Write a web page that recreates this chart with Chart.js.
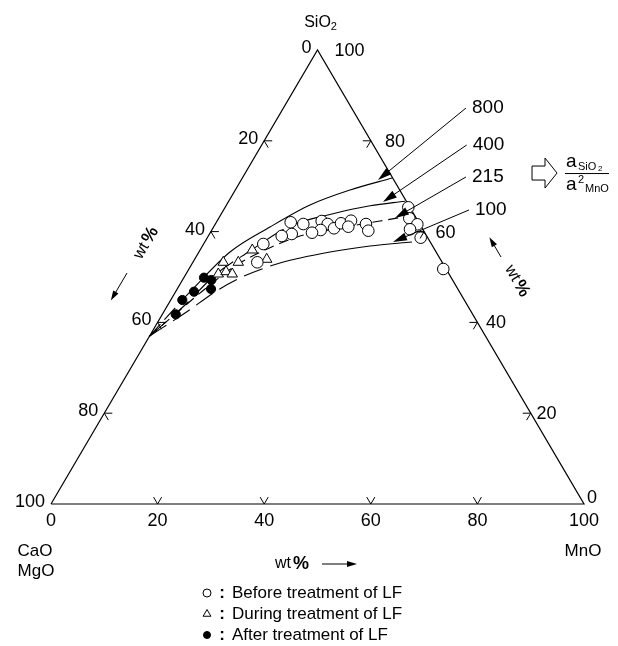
<!DOCTYPE html>
<html>
<head>
<meta charset="utf-8">
<script src="https://cdn.jsdelivr.net/npm/chart.js@4.4.0/dist/chart.umd.min.js"></script>
<style>
  body { margin: 0; background: #fff; }
  #wrap { width: 618px; height: 646px; }
</style>
</head>
<body>
<div id="wrap"><canvas id="ternary" width="618" height="646"></canvas></div>
<script>
// slag compositions, wt% (CaO+MgO = 100 - SiO2 - MnO)
const beforeSiO2 = [65.35, 62.93, 61.61, 60.51, 58.66, 62.05, 61.67, 62.33, 61.67, 60.73, 61.83, 62.40, 61.08, 61.67, 60.20, 60.35, 59.76, 59.47, 59.03, 57.27, 53.24, 51.76];
const beforeMnO  = [34.36, 35.76, 37.92, 37.10, 40.03, 13.95, 16.50, 19.62, 21.08, 22.73, 23.50, 25.09, 25.24, 28.26, 29.43, 20.43, 19.09, 15.43, 13.77, 11.20, 12.09, 47.72];

const duringSiO2 = [55.95, 53.90, 53.24, 53.24, 50.66, 51.17, 50.66];
const duringMnO  = [9.79, 13.52, 5.71, 8.52, 6.06, 7.25, 8.68];

const afterSiO2 = [49.85, 49.34, 47.36, 46.76, 44.93, 41.78];
const afterMnO  = [3.78, 5.41, 6.34, 3.45, 2.17, 2.51];

// iso-activity lines a(SiO2)/a(MnO)^2
const isoLabels = ['800', '400', '215', '100'];
const iso800SiO2 = [37.0, 46.70, 55.51, 61.01, 65.86, 69.16, 71.81];
const iso800MnO  = [0, 2.73, 5.83, 10.58, 15.66, 21.52, 28.07];
const iso400SiO2 = [37.0, 43.83, 50.44, 55.73, 61.23, 63.88, 65.68, 66.70];
const iso400MnO  = [0, 3.23, 5.55, 9.47, 14.22, 20.78, 27.01, 33.07];
const iso215SiO2 = [37.0, 42.73, 47.36, 52.42, 55.95, 59.03, 60.79, 62.33, 63.66];
const iso215MnO  = [0, 2.84, 5.21, 8.31, 12.17, 17.20, 23.83, 30.56, 36.46];
const iso100SiO2 = [37.0, 42.07, 47.14, 50.00, 53.08, 55.51, 56.83, 57.71];
const iso100MnO  = [0, 4.11, 7.76, 10.83, 16.42, 24.59, 31.43, 38.87];

// leader lines for the iso labels, in plot units (x = MnO + SiO2/2, y = SiO2)
const leaderStartX = [77.86, 77.99, 77.86, 78.42];
const leaderStartY = [87.22, 79.07, 72.03, 64.76];
const leaderTipX = [61.35, 62.29, 64.54, 64.17];
const leaderTipY = [71.37, 66.52, 63.00, 57.71];

const tickValues = [0, 20, 40, 60, 80, 100];

const toXY = (s, m) => ({ x: m + s / 2, y: s });
const series = (sArr, mArr) => sArr.map((s, i) => toXY(s, mArr[i]));

const FONT = '"Liberation Sans", Arial, Helvetica, sans-serif';

function arrow(ctx, x1, y1, x2, y2, len, half) {
  const a = Math.atan2(y2 - y1, x2 - x1);
  ctx.beginPath();
  ctx.moveTo(x1, y1);
  ctx.lineTo(x2 - Math.cos(a) * len * 0.6, y2 - Math.sin(a) * len * 0.6);
  ctx.stroke();
  ctx.beginPath();
  ctx.moveTo(x2, y2);
  ctx.lineTo(x2 - Math.cos(a) * len + Math.sin(a) * half, y2 - Math.sin(a) * len - Math.cos(a) * half);
  ctx.lineTo(x2 - Math.cos(a) * len - Math.sin(a) * half, y2 - Math.sin(a) * len + Math.cos(a) * half);
  ctx.closePath();
  ctx.fill();
}

function wtPercent(ctx, x, y, angle) {
  ctx.save();
  ctx.translate(x, y);
  ctx.rotate(angle);
  ctx.textBaseline = 'middle';
  ctx.font = '16px ' + FONT;
  const w1 = ctx.measureText('wt').width;
  ctx.font = 'bold 18px ' + FONT;
  const w2 = ctx.measureText('%').width;
  const start = -(w1 + 2 + w2) / 2;
  ctx.textAlign = 'left';
  ctx.font = '16px ' + FONT;
  ctx.fillText('wt', start, 0);
  ctx.font = 'bold 18px ' + FONT;
  ctx.fillText('%', start + w1 + 2, 0);
  ctx.restore();
}

const annotate = {
  id: 'annotate',
  afterDatasetsDraw(chart) {
    const { ctx } = chart;
    const sx = chart.scales.x, sy = chart.scales.y;
    const P = (X, Y) => ({ x: sx.getPixelForValue(X), y: sy.getPixelForValue(Y) });
    const pos = (s, m) => { const q = toXY(s, m); return P(q.x, q.y); };
    const unit = (a, b) => { const dx = b.x - a.x, dy = b.y - a.y, l = Math.hypot(dx, dy); return { x: dx / l, y: dy / l }; };

    const A = pos(0, 0), B = pos(0, 100), C = pos(100, 0);
    const upLeft = unit(B, C), upRight = unit(A, C), downRight = unit(C, B), downLeft = unit(C, A);

    ctx.save();
    ctx.strokeStyle = '#000';
    ctx.fillStyle = '#000';
    ctx.lineWidth = 1;

    // tick marks
    const tl = 8;
    const vee = (p, d1, d2) => {
      ctx.beginPath();
      ctx.moveTo(p.x + d1.x * tl, p.y + d1.y * tl);
      ctx.lineTo(p.x, p.y);
      ctx.lineTo(p.x + d2.x * tl, p.y + d2.y * tl);
      ctx.stroke();
    };
    tickValues.slice(1, -1).forEach(v => {
      vee(pos(0, v), upLeft, upRight);
      vee(pos(100 - v, 0), { x: 1, y: 0 }, downRight);
      vee(pos(v, 100 - v), { x: -1, y: 0 }, downLeft);
    });

    // tick labels
    ctx.font = '18px ' + FONT;
    ctx.textBaseline = 'middle';
    tickValues.forEach(v => {
      const b = pos(0, v);
      ctx.textAlign = 'center';
      ctx.fillText(String(v), b.x, b.y + 17);
      const l = pos(100 - v, 0);
      ctx.textAlign = 'right';
      ctx.fillText(String(v), l.x - 6, l.y - 2);
      const r = pos(v, 100 - v);
      ctx.textAlign = 'left';
      ctx.fillText(String(v), r.x + 3 + 0.14 * v, r.y + (v === 0 ? -6 : 1));
    });

    // corner names
    ctx.font = '16px ' + FONT;
    ctx.textAlign = 'left';
    const sio = ctx.measureText('SiO').width;
    ctx.fillText('SiO', C.x + 4 - (sio + 8) / 2, C.y - 27);
    ctx.font = '11px ' + FONT;
    ctx.fillText('2', C.x + 4 - (sio + 8) / 2 + sio, C.y - 23);
    ctx.font = '17px ' + FONT;
    ctx.textAlign = 'center';
    ctx.fillText('CaO', A.x - 16, A.y + 47);
    ctx.fillText('MgO', A.x - 15, A.y + 67);
    ctx.fillText('MnO', B.x - 1, B.y + 47);

    // iso-line labels with leaders
    ctx.font = '19px ' + FONT;
    ctx.textAlign = 'left';
    isoLabels.forEach((lab, i) => {
      const s = P(leaderStartX[i], leaderStartY[i]);
      const t = P(leaderTipX[i], leaderTipY[i]);
      arrow(ctx, s.x, s.y, t.x, t.y, 14, 4);
      ctx.fillText(lab, s.x + 6, s.y);
    });

    // hollow arrow and activity ratio
    const h = P(92.5, 72.9);
    ctx.beginPath();
    ctx.moveTo(h.x - 12, h.y - 7);
    ctx.lineTo(h.x + 1, h.y - 7);
    ctx.lineTo(h.x + 1, h.y - 15);
    ctx.lineTo(h.x + 13, h.y);
    ctx.lineTo(h.x + 1, h.y + 15);
    ctx.lineTo(h.x + 1, h.y + 7);
    ctx.lineTo(h.x - 12, h.y + 7);
    ctx.closePath();
    ctx.stroke();
    const fx = h.x + 21, fy = h.y;
    ctx.beginPath();
    ctx.moveTo(fx, fy + 0.5);
    ctx.lineTo(fx + 44, fy + 0.5);
    ctx.stroke();
    ctx.textAlign = 'left';
    ctx.font = '19px ' + FONT;
    ctx.fillText('a', fx + 1, fy - 11);
    ctx.fillText('a', fx + 1, fy + 12);
    ctx.font = '11px ' + FONT;
    ctx.fillText('SiO', fx + 13, fy - 6);
    ctx.font = '8px ' + FONT;
    ctx.fillText('2', fx + 13 + 20, fy - 4);
    ctx.font = '11px ' + FONT;
    ctx.fillText('2', fx + 13, fy + 7);
    ctx.fillText('MnO', fx + 20, fy + 16);

    // wt% with direction arrows
    wtPercent(ctx, 146, 243, -Math.PI / 3);
    arrow(ctx, 127, 273, 127 + downLeft.x * 32, 273 + downLeft.y * 32, 10, 3);
    wtPercent(ctx, 517, 281, Math.PI / 3);
    arrow(ctx, 501, 257, 501 + upLeft.x * 23, 257 + upLeft.y * 23, 10, 3);
    wtPercent(ctx, 292, 564, 0);
    arrow(ctx, 322, 564, 357, 564, 10, 3);

    // legend
    const rows = [
      { style: 'circle', r: 4, fill: '#fff', text: 'Before treatment of LF' },
      { style: 'triangle', r: 4.5, fill: '#fff', text: 'During treatment of LF' },
      { style: 'circle', r: 3.5, fill: '#000', text: 'After treatment of LF' }
    ];
    rows.forEach((row, i) => {
      const y = 593 + i * 21;
      ctx.fillStyle = row.fill;
      ctx.lineWidth = 1;
      Chart.helpers.drawPoint(ctx, { pointStyle: row.style, radius: row.r, rotation: 0, borderWidth: 1 }, 207, y);
      ctx.fillStyle = '#000';
      ctx.font = 'bold 17px ' + FONT;
      ctx.textAlign = 'center';
      ctx.fillText(':', 222, y);
      ctx.font = '17px ' + FONT;
      ctx.textAlign = 'left';
      ctx.fillText(row.text, 232, y);
    });
    ctx.restore();
  }
};

const frame = [toXY(0, 0), toXY(0, 100), toXY(100, 0), toXY(0, 0)];

const isoLine = (sArr, mArr, dashUntil, dash) => ({
  type: 'scatter',
  data: series(sArr, mArr),
  showLine: true,
  borderColor: '#000',
  borderWidth: 1.1,
  pointRadius: 0,
  tension: 0.4,
  cubicInterpolationMode: 'monotone',
  borderDash: [],
  segment: { borderDash: ctx => (ctx.p0DataIndex < dashUntil ? dash : undefined) },
  clip: false,
  order: 2
});

new Chart(document.getElementById('ternary'), {
  type: 'scatter',
  data: {
    datasets: [
      {
        data: frame,
        showLine: true,
        borderColor: '#000',
        borderWidth: 1.2,
        pointRadius: 0,
        tension: 0,
        clip: false,
        order: 3
      },
      isoLine(iso800SiO2, iso800MnO, 1, [16, 6]),
      isoLine(iso400SiO2, iso400MnO, 4, [22, 8]),
      isoLine(iso215SiO2, iso215MnO, 99, [10, 6]),
      isoLine(iso100SiO2, iso100MnO, 4, [20, 8]),
      {
        data: series(beforeSiO2, beforeMnO),
        pointStyle: 'circle',
        pointRadius: 5.8,
        borderWidth: 1,
        borderColor: '#000',
        backgroundColor: '#fff',
        clip: false,
        order: 0
      },
      {
        data: series(duringSiO2, duringMnO),
        pointStyle: 'triangle',
        pointRadius: 6,
        borderWidth: 1,
        borderColor: '#000',
        backgroundColor: '#fff',
        clip: false,
        order: 0
      },
      {
        data: series(afterSiO2, afterMnO),
        pointStyle: 'circle',
        pointRadius: 4.6,
        borderWidth: 1,
        borderColor: '#000',
        backgroundColor: '#000',
        clip: false,
        order: 0
      }
    ]
  },
  options: {
    responsive: false,
    animation: false,
    layout: { padding: { left: 51, right: 34, top: 50, bottom: 142 } },
    scales: {
      x: { type: 'linear', min: 0, max: 100, display: false },
      y: { type: 'linear', min: 0, max: 100, display: false }
    },
    plugins: {
      legend: { display: false },
      tooltip: { enabled: false }
    },
    elements: { point: { hoverRadius: 0 } }
  },
  plugins: [annotate]
});
</script>
</body>
</html>
